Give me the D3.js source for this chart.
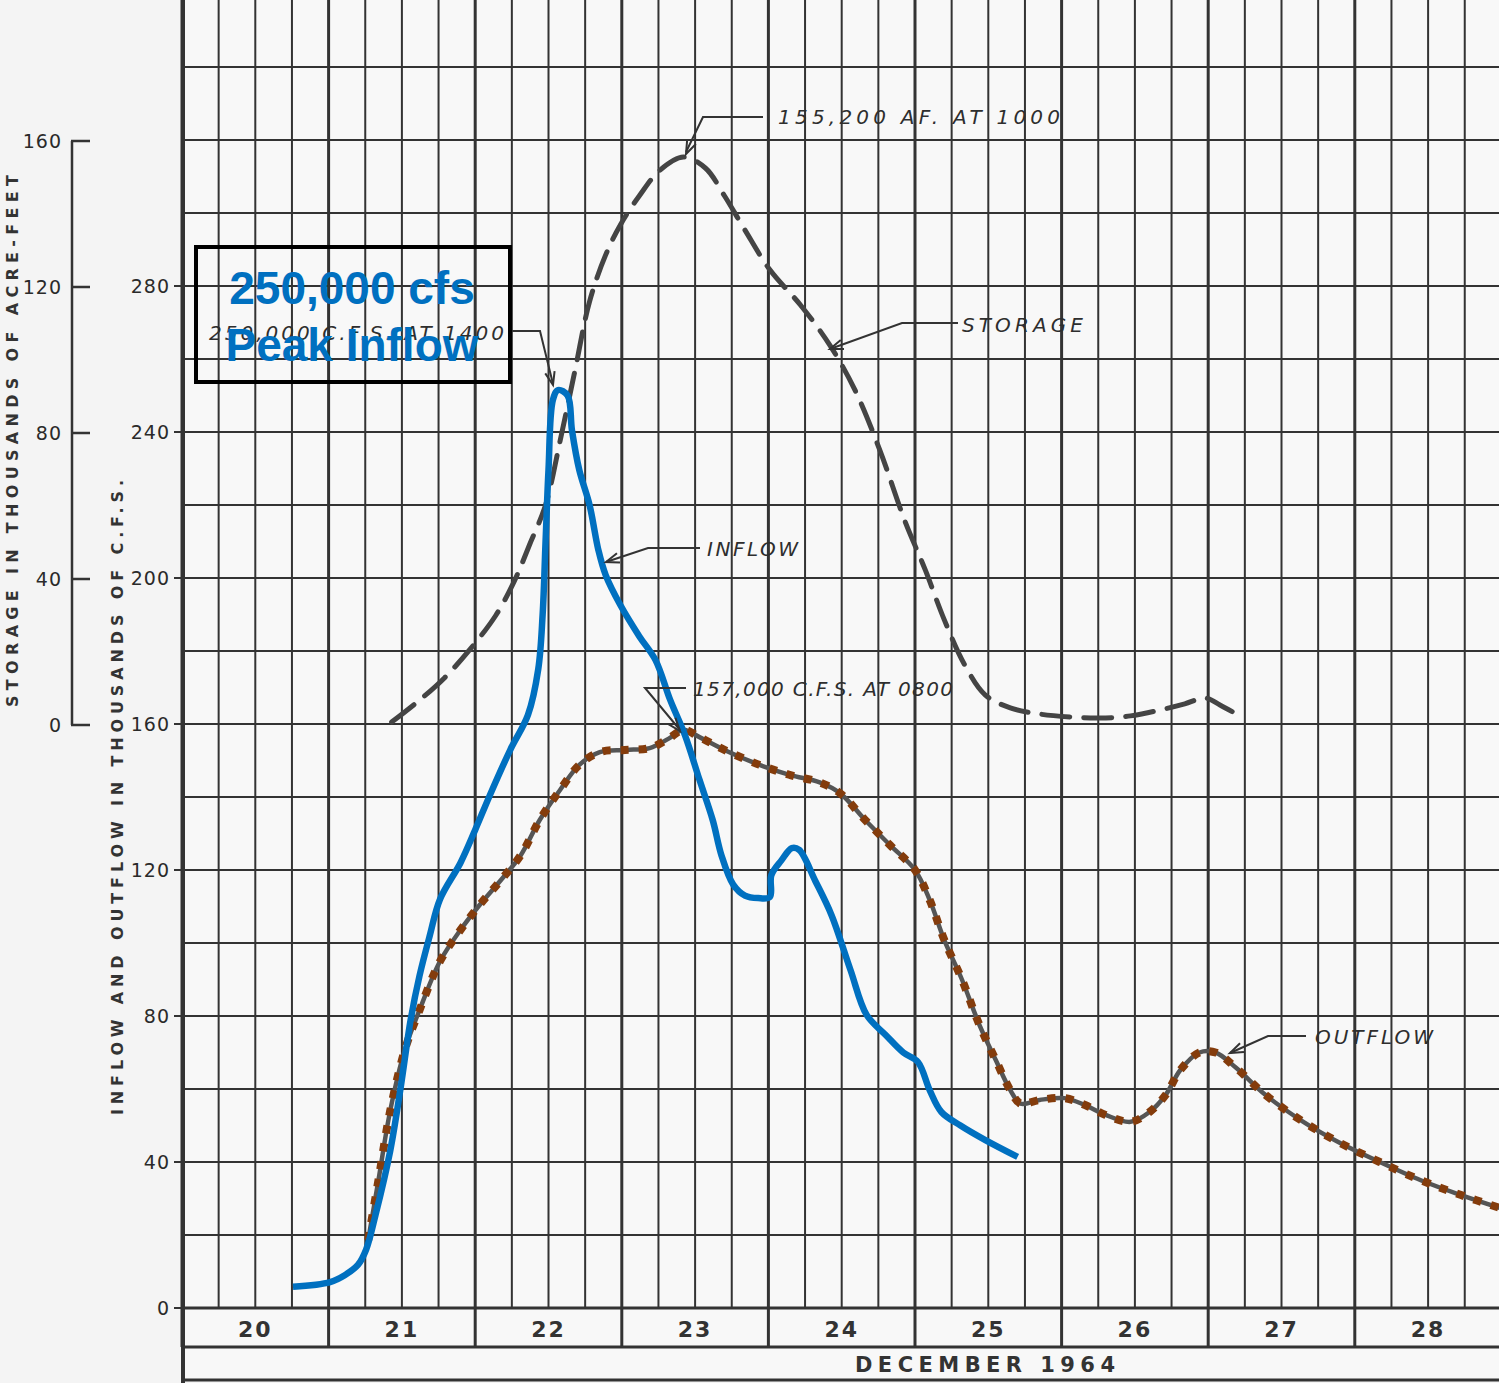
<!DOCTYPE html>
<html><head><meta charset="utf-8">
<script src="https://cdn.jsdelivr.net/npm/d3@7"></script>
<style>html,body{margin:0;padding:0;background:#f3f3f3;} svg{display:block;}</style>
</head><body>
<svg id="c" width="1499" height="1383"></svg>
<script>
// ---- DATA ----
const dayLabels = ["20","21","22","23","24","25","26","27","28"];
const flowTicks = [0,40,80,120,160,200,240,280];
const storageTicks = [0,40,80,120,160];
// inflow: [day (Dec, fractional), thousand cfs]
const inflowDay = [20.757,21.01,21.11,21.2,21.255,21.32,21.42,21.49,21.56,21.62,21.69,21.76,21.9,22.0,22.1,22.24,22.36,22.43,22.46,22.48,22.5,22.53,22.565,22.63,22.66,22.71,22.78,22.84,22.89,22.99,23.12,23.23,23.33,23.43,23.53,23.62,23.68,23.76,23.84,23.93,24.01,24.02,24.09,24.16,24.21,24.32,24.43,24.56,24.67,24.8,24.92,25.02,25.1,25.18,25.31,25.48,25.7];
const inflowVal = [5.8,7.1,9,11.8,15.9,25.5,43,60,79,91,102,112,122,131,140.5,153,162.5,175,190,210,229.6,248.8,251.5,250,240.5,229.6,220,207.7,200.8,192.6,184,177.5,166.6,157,144.7,133.7,124,116,113,112.3,112.6,118.6,122.7,126,125.5,117,107.7,92.6,80.3,74.8,70,67.4,59.7,53.7,50,46,41.4];
const outflowDay = [21.27,21.34,21.42,21.52,21.62,21.76,21.9,22.03,22.17,22.31,22.44,22.58,22.71,22.85,23.02,23.19,23.32,23.42,23.53,23.7,23.94,24.15,24.35,24.49,24.66,24.83,25.0,25.1,25.2,25.32,25.44,25.55,25.65,25.72,25.85,26.02,26.16,26.3,26.47,26.6,26.71,26.81,26.94,27.05,27.19,27.39,27.63,27.9,28.17,28.45,28.72,28.99];
const outflowVal = [18.6,35,54,70.7,81.6,95,103.6,110.4,117,124,133.7,142,148.8,152.3,152.9,153.4,156,158.4,156.4,152.9,148.8,146,144,141,133.7,126.8,120,111.8,100.8,90,77.5,68,59.7,56,57,57.5,55.6,52.9,51,53.7,58.4,65.2,70,70,65.8,58.4,51.5,45.2,40,35,31,27.4];
// storage: thousand acre-feet
const storageDay = [21.43,21.62,21.79,21.96,22.14,22.27,22.37,22.48,22.58,22.68,22.78,22.89,22.99,23.12,23.26,23.42,23.57,23.7,23.84,24.01,24.22,24.42,24.59,24.76,24.93,25.07,25.2,25.34,25.48,25.65,25.85,26.06,26.26,26.47,26.67,26.84,26.98,27.08,27.18];
const storageVal = [0.8,6.8,12.9,20.5,30,39.7,49.3,60.3,78,97,116,128.8,137,145,152,155.6,152.6,145,135.6,124.7,115,104,91.8,75.3,56,42.5,28.8,16.4,8.2,4.7,3,2.2,1.9,2.5,4.1,5.8,7.4,5.5,3.3];

// ---- SCALES ----
const svg = d3.select("#c");
const W = 1499, H = 1383;
const x = d3.scaleLinear().domain([20, 29]).range([182, 182 + 9*146.6]);
const y = d3.scaleLinear().domain([0, 280]).range([1308, 286]);
const ys = d3.scaleLinear().domain([0, 160]).range([725, 141]);
const ink = "#333";

// background
svg.append("rect").attr("width",W).attr("height",H).attr("fill","#f4f4f4");
svg.append("rect").attr("x",182).attr("y",0).attr("width",W-182).attr("height",1380).attr("fill","#f8f8f8");

// ---- GRID ----
const g = svg.append("g");
const yMax = y.invert(0);
for (let v = 0; v <= yMax; v += 20) {
  g.append("line").attr("x1",182).attr("x2",W).attr("y1",y(v)).attr("y2",y(v))
    .attr("stroke",ink).attr("stroke-width", v===0?3:2);
}
for (let q = 0; q <= 36; q++) {
  const d = 20 + q/4;
  const isDay = q % 4 === 0;
  g.append("line").attr("x1",x(d)).attr("x2",x(d)).attr("y1",0)
    .attr("y2", isDay ? 1347 : y(0))
    .attr("stroke",ink).attr("stroke-width", isDay ? 3 : 2);
}
g.append("line").attr("x1",183).attr("x2",183).attr("y1",0).attr("y2",H).attr("stroke",ink).attr("stroke-width",4);
g.append("line").attr("x1",182).attr("x2",W).attr("y1",1347).attr("y2",1347).attr("stroke",ink).attr("stroke-width",3);
g.append("line").attr("x1",182).attr("x2",W).attr("y1",1380).attr("y2",1380).attr("stroke",ink).attr("stroke-width",3);

// day labels
g.selectAll("text.day").data(dayLabels).join("text")
  .attr("x",(d,i)=>x(20+i+0.5)).attr("y",1337)
  .attr("text-anchor","middle").attr("font-family","DejaVu Sans").attr("font-weight","bold")
  .attr("font-size",22).attr("letter-spacing",2).attr("fill",ink).text(d=>d);
g.append("text").attr("x",855).attr("y",1372)
  .attr("font-family","DejaVu Sans").attr("font-weight","bold").attr("font-size",21)
  .attr("textLength",260).attr("lengthAdjust","spacing").attr("fill",ink).text("DECEMBER 1964");

// flow axis
const fa = svg.append("g");
flowTicks.forEach(v=>{
  fa.append("line").attr("x1",174).attr("x2",183).attr("y1",y(v)).attr("y2",y(v)).attr("stroke",ink).attr("stroke-width",2);
  fa.append("text").attr("x",170).attr("y",y(v)+7).attr("text-anchor","end")
    .attr("font-family","DejaVu Sans").attr("font-size",19).attr("fill","#2a2a2a").attr("letter-spacing",1).text(v);
});
fa.append("text").attr("transform","translate(123,1115) rotate(-90)")
  .attr("font-family","DejaVu Sans").attr("font-weight","bold").attr("font-size",16)
  .attr("textLength",635).attr("lengthAdjust","spacing")
  .attr("fill",ink).text("INFLOW  AND  OUTFLOW  IN  THOUSANDS  OF  C.F.S.");

// storage axis
const sa = svg.append("g");
sa.append("line").attr("x1",72).attr("x2",72).attr("y1",ys(160)).attr("y2",ys(0)).attr("stroke",ink).attr("stroke-width",2.5);
storageTicks.forEach(v=>{
  sa.append("line").attr("x1",71).attr("x2",90).attr("y1",ys(v)).attr("y2",ys(v)).attr("stroke",ink).attr("stroke-width",2.5);
  sa.append("text").attr("x",62).attr("y",ys(v)+7).attr("text-anchor","end")
    .attr("font-family","DejaVu Sans").attr("font-size",19).attr("fill","#2a2a2a").attr("letter-spacing",1).text(v);
});
sa.append("text").attr("transform","translate(18,707) rotate(-90)")
  .attr("font-family","DejaVu Sans").attr("font-weight","bold").attr("font-size",16)
  .attr("textLength",532).attr("lengthAdjust","spacing")
  .attr("fill",ink).text("STORAGE  IN  THOUSANDS  OF  ACRE-FEET");

// ---- LINES ----
const curve = d3.curveCatmullRom.alpha(0.5);
const lineF = d3.line().x(d=>x(d[0])).y(d=>y(d[1])).curve(curve);
const lineS = d3.line().x(d=>x(d[0])).y(d=>ys(d[1])).curve(curve);
const inflow = inflowDay.map((d,i)=>[d, inflowVal[i]]);
const outflow = outflowDay.map((d,i)=>[d, outflowVal[i]]);
const storage = storageDay.map((d,i)=>[d, storageVal[i]]);

svg.append("path").datum(storage).attr("d",lineS).attr("fill","none")
  .attr("stroke","#444").attr("stroke-width",5).attr("stroke-dasharray","28,14").attr("stroke-linecap","round");
svg.append("path").datum(outflow).attr("d",lineF).attr("fill","none")
  .attr("stroke","#555").attr("stroke-width",4.5);
svg.append("path").datum(outflow).attr("d",lineF).attr("fill","none")
  .attr("stroke","#843C0C").attr("stroke-width",8).attr("stroke-dasharray","8,10");
svg.append("path").datum(inflow).attr("d",lineF).attr("fill","none")
  .attr("stroke","#0070C0").attr("stroke-width",6.5).attr("stroke-linejoin","round");

// ---- ANNOTATIONS ----
const an = svg.append("g").attr("fill","none").attr("stroke",ink).attr("stroke-width",2);
function leader(pts){ an.append("path").attr("d", d3.line()(pts)); }
function arrow(tip, from){
  const a = Math.atan2(from[1]-tip[1], from[0]-tip[0]);
  const L = 14, s = 0.35;
  an.append("path").attr("d", d3.line()([[tip[0]+L*Math.cos(a+s), tip[1]+L*Math.sin(a+s)], tip, [tip[0]+L*Math.cos(a-s), tip[1]+L*Math.sin(a-s)]]));
}
function label(tx, ty, t, len){
  svg.append("text").attr("x",tx).attr("y",ty).attr("font-family","DejaVu Sans").attr("font-style","italic")
    .attr("font-size",20).attr("textLength",len).attr("lengthAdjust","spacing").attr("fill","#2e2e2e").text(t);
}
leader([[763,117],[703,117],[686,152]]); arrow([686,154],[703,117]);
label(778,124,"155,200  AF.  AT  1000", 282);
leader([[958,323],[902,323],[830,349]]); arrow([830,349],[902,323]);
label(962,332,"STORAGE", 121);
leader([[700,548],[648,548],[606,562]]); arrow([606,562],[648,548]);
label(707,556,"INFLOW", 91);
leader([[686,688],[645,688],[680,730]]); arrow([680,731],[645,688]);
label(693,696,"157,000 C.F.S. AT 0800", 260);
leader([[1306,1036],[1268,1036],[1230,1053]]); arrow([1230,1053],[1268,1036]);
label(1315,1044,"OUTFLOW", 118);
leader([[512,331],[540,331],[553,384]]); arrow([553,385],[540,331]);
label(209,340,"250,000 C.F.S. AT 1400", 295);

// callout box
svg.append("rect").attr("x",196).attr("y",247).attr("width",314).attr("height",135)
  .attr("fill","none").attr("stroke","#000").attr("stroke-width",4);
svg.append("text").attr("x",352).attr("y",304).attr("text-anchor","middle").attr("font-family","Liberation Sans")
  .attr("font-weight","bold").attr("font-size",46).attr("fill","#0070C0").text("250,000 cfs");
svg.append("text").attr("x",352).attr("y",361).attr("text-anchor","middle").attr("font-family","Liberation Sans")
  .attr("font-weight","bold").attr("font-size",46).attr("fill","#0070C0").text("Peak Inflow");
</script>
</body></html>
